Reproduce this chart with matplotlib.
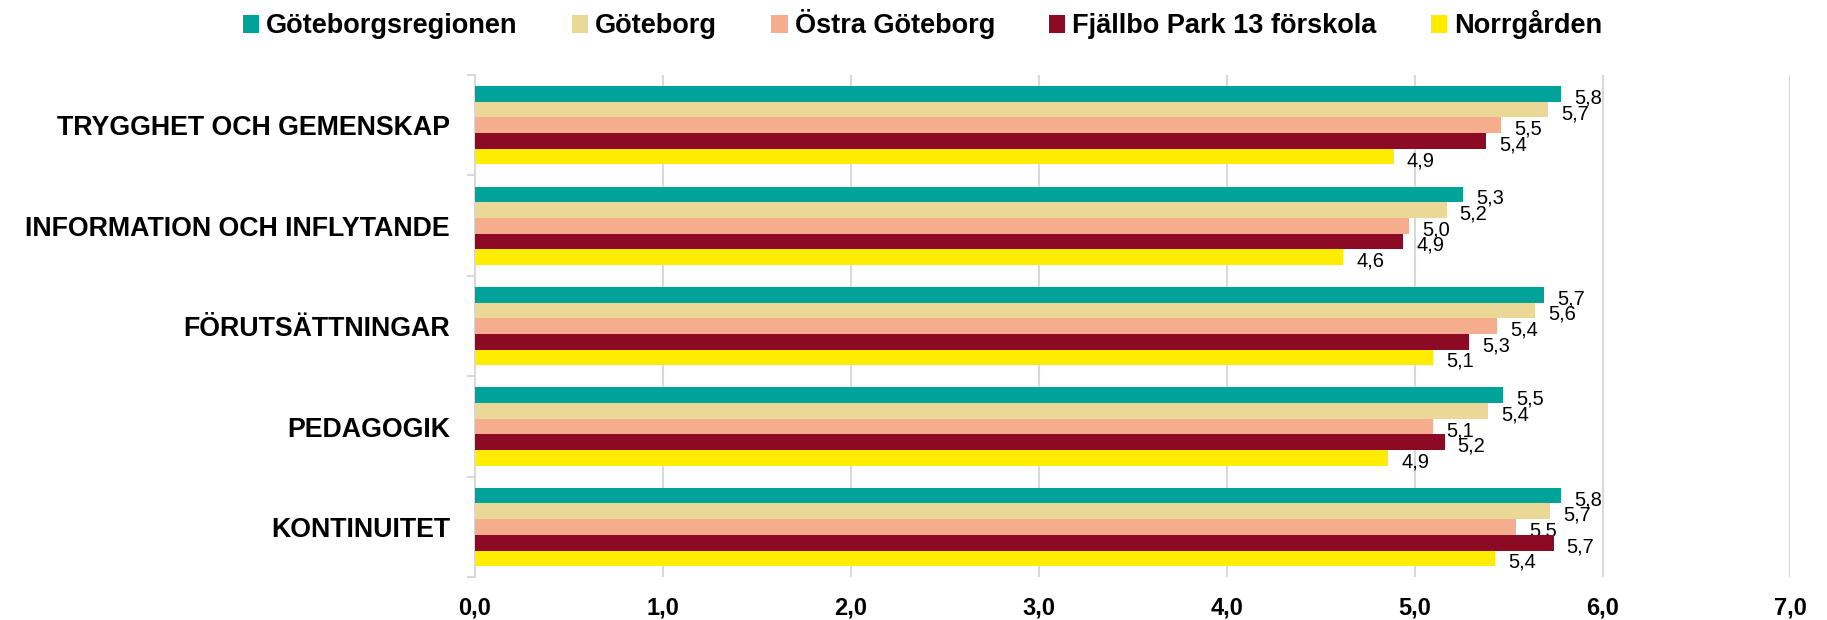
import matplotlib
matplotlib.use("Agg")
import matplotlib.pyplot as plt
import numpy as np

categories = ["TRYGGHET OCH GEMENSKAP", "INFORMATION OCH INFLYTANDE",
              "FÖRUTSÄTTNINGAR", "PEDAGOGIK", "KONTINUITET"]
series_names = ["Göteborgsregionen", "Göteborg", "Östra Göteborg",
                "Fjällbo Park 13 förskola", "Norrgården"]
goteborgsregionen = [5.78, 5.26, 5.69, 5.47, 5.78]
goteborg = [5.71, 5.17, 5.64, 5.39, 5.72]
ostra_goteborg = [5.46, 4.97, 5.44, 5.10, 5.54]
fjallbo = [5.38, 4.94, 5.29, 5.16, 5.74]
norrgarden = [4.89, 4.62, 5.10, 4.86, 5.43]
colors = ["#00A39A", "#EBD796", "#F5AD8E", "#8C0A24", "#FFEC00"]
xticks = [0, 1, 2, 3, 4, 5, 6, 7]

series = [goteborgsregionen, goteborg, ostra_goteborg, fjallbo, norrgarden]

fam = ["Liberation Sans", "DejaVu Sans"]
plt.rcParams["font.family"] = fam

fig = plt.figure(figsize=(18.27, 6.2), dpi=100)
ax = fig.add_axes([0.26, 0.069, 0.72, 0.81])

n = len(series)
bh = 0.156
ypos = np.arange(len(categories))
for i, (vals, name, c) in enumerate(zip(series, series_names, colors)):
    offs = (i - (n - 1) / 2) * bh
    y = ypos + offs
    ax.barh(y, vals, height=bh, color=c, label=name, zorder=3)
    for yy, v in zip(y, vals):
        ax.annotate(f"{v:.1f}".replace(".", ","), (v, yy), xytext=(13, -4),
                    textcoords="offset pixels",
                    va="center", ha="left", fontsize=14.5, color="#000000")

ax.set_ylim(len(categories) - 0.5, -0.5)
ax.set_xlim(0, 7)
ax.set_xticks(xticks)
ax.set_xticklabels([f"{t:.1f}".replace(".", ",") for t in xticks],
                   fontsize=17, fontweight="bold")
ax.tick_params(axis="x", length=0, pad=14)
ax.set_yticks(ypos)
ax.set_yticklabels(categories, fontsize=19.3, fontweight="bold")
ax.tick_params(axis="y", length=0, pad=18)
ax.set_yticks(np.arange(len(categories) + 1) - 0.5, minor=True)
ax.tick_params(axis="y", which="minor", length=6, color="#d9d9d9", width=1.5)
ax.grid(axis="x", color="#d9d9d9", linewidth=1.5, zorder=0)
for s in ["top", "right", "bottom"]:
    ax.spines[s].set_visible(False)
ax.spines["left"].set_color("#d9d9d9")
ax.spines["left"].set_linewidth(1.5)

handles, labels = ax.get_legend_handles_labels()
fig.legend(handles, labels, loc="center", bbox_to_anchor=(0.505, 0.961), ncol=5,
           frameon=False, prop={"weight": "bold", "size": 19.5},
           handlelength=0.6, handleheight=0.63, handletextpad=0.26, columnspacing=2.0)

fig.savefig("out.png", dpi=100)
